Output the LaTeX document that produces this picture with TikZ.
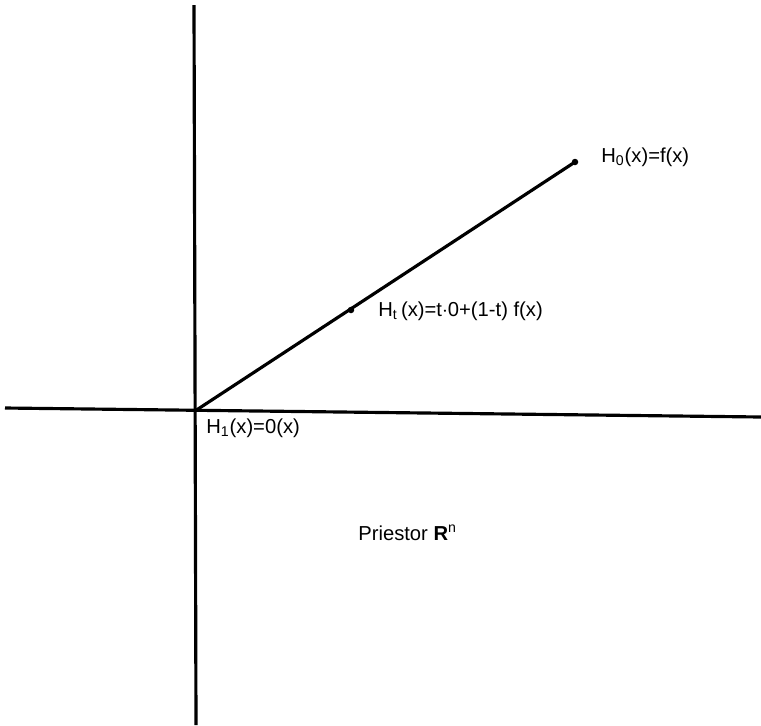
\documentclass[tikz,border=0pt]{standalone}
\usepackage{fontspec}
\setmainfont{Liberation Sans}
\usepackage{tikz}

\begin{document}
\begin{tikzpicture}[x=0.02cm,y=-0.02cm]
\tikzset{axis/.style={line width=1.8pt},
  lbl/.style={anchor=west,inner sep=0pt,font=\fontsize{11.5}{13}\selectfont}}
\path[use as bounding box] (0,0) rectangle (761,725);
% axes
\coordinate (ytop) at (194,5);
\coordinate (ybot) at (196,725);
\coordinate (xleft) at (5,408);
\coordinate (xright) at (761,417);
\coordinate (orig) at (195,411);
\draw[axis] (ytop) -- (ybot);
\draw[axis] (xleft) -- (xright);
% segment
\coordinate (pzero) at (575,162);
\coordinate (pmid) at (351,310);
\draw[axis] (orig) -- (pzero);
\fill (pzero) circle (0.065cm);
\fill (pmid) circle (0.065cm);
\node[lbl] (hzero) at (601,157) {H\textsubscript{0}(x)=f(x)};
\node[lbl] (ht) at (378,311) {H\textsubscript{t}\,(x)=t$\cdot$0+(1-t) f(x)};
\node[lbl] (hone) at (206,428) {H\textsubscript{1}(x)=0(x)};
\node[lbl] (space) at (358,533) {Priestor \textbf{R}\textsuperscript{n}};
\end{tikzpicture}
\end{document}
